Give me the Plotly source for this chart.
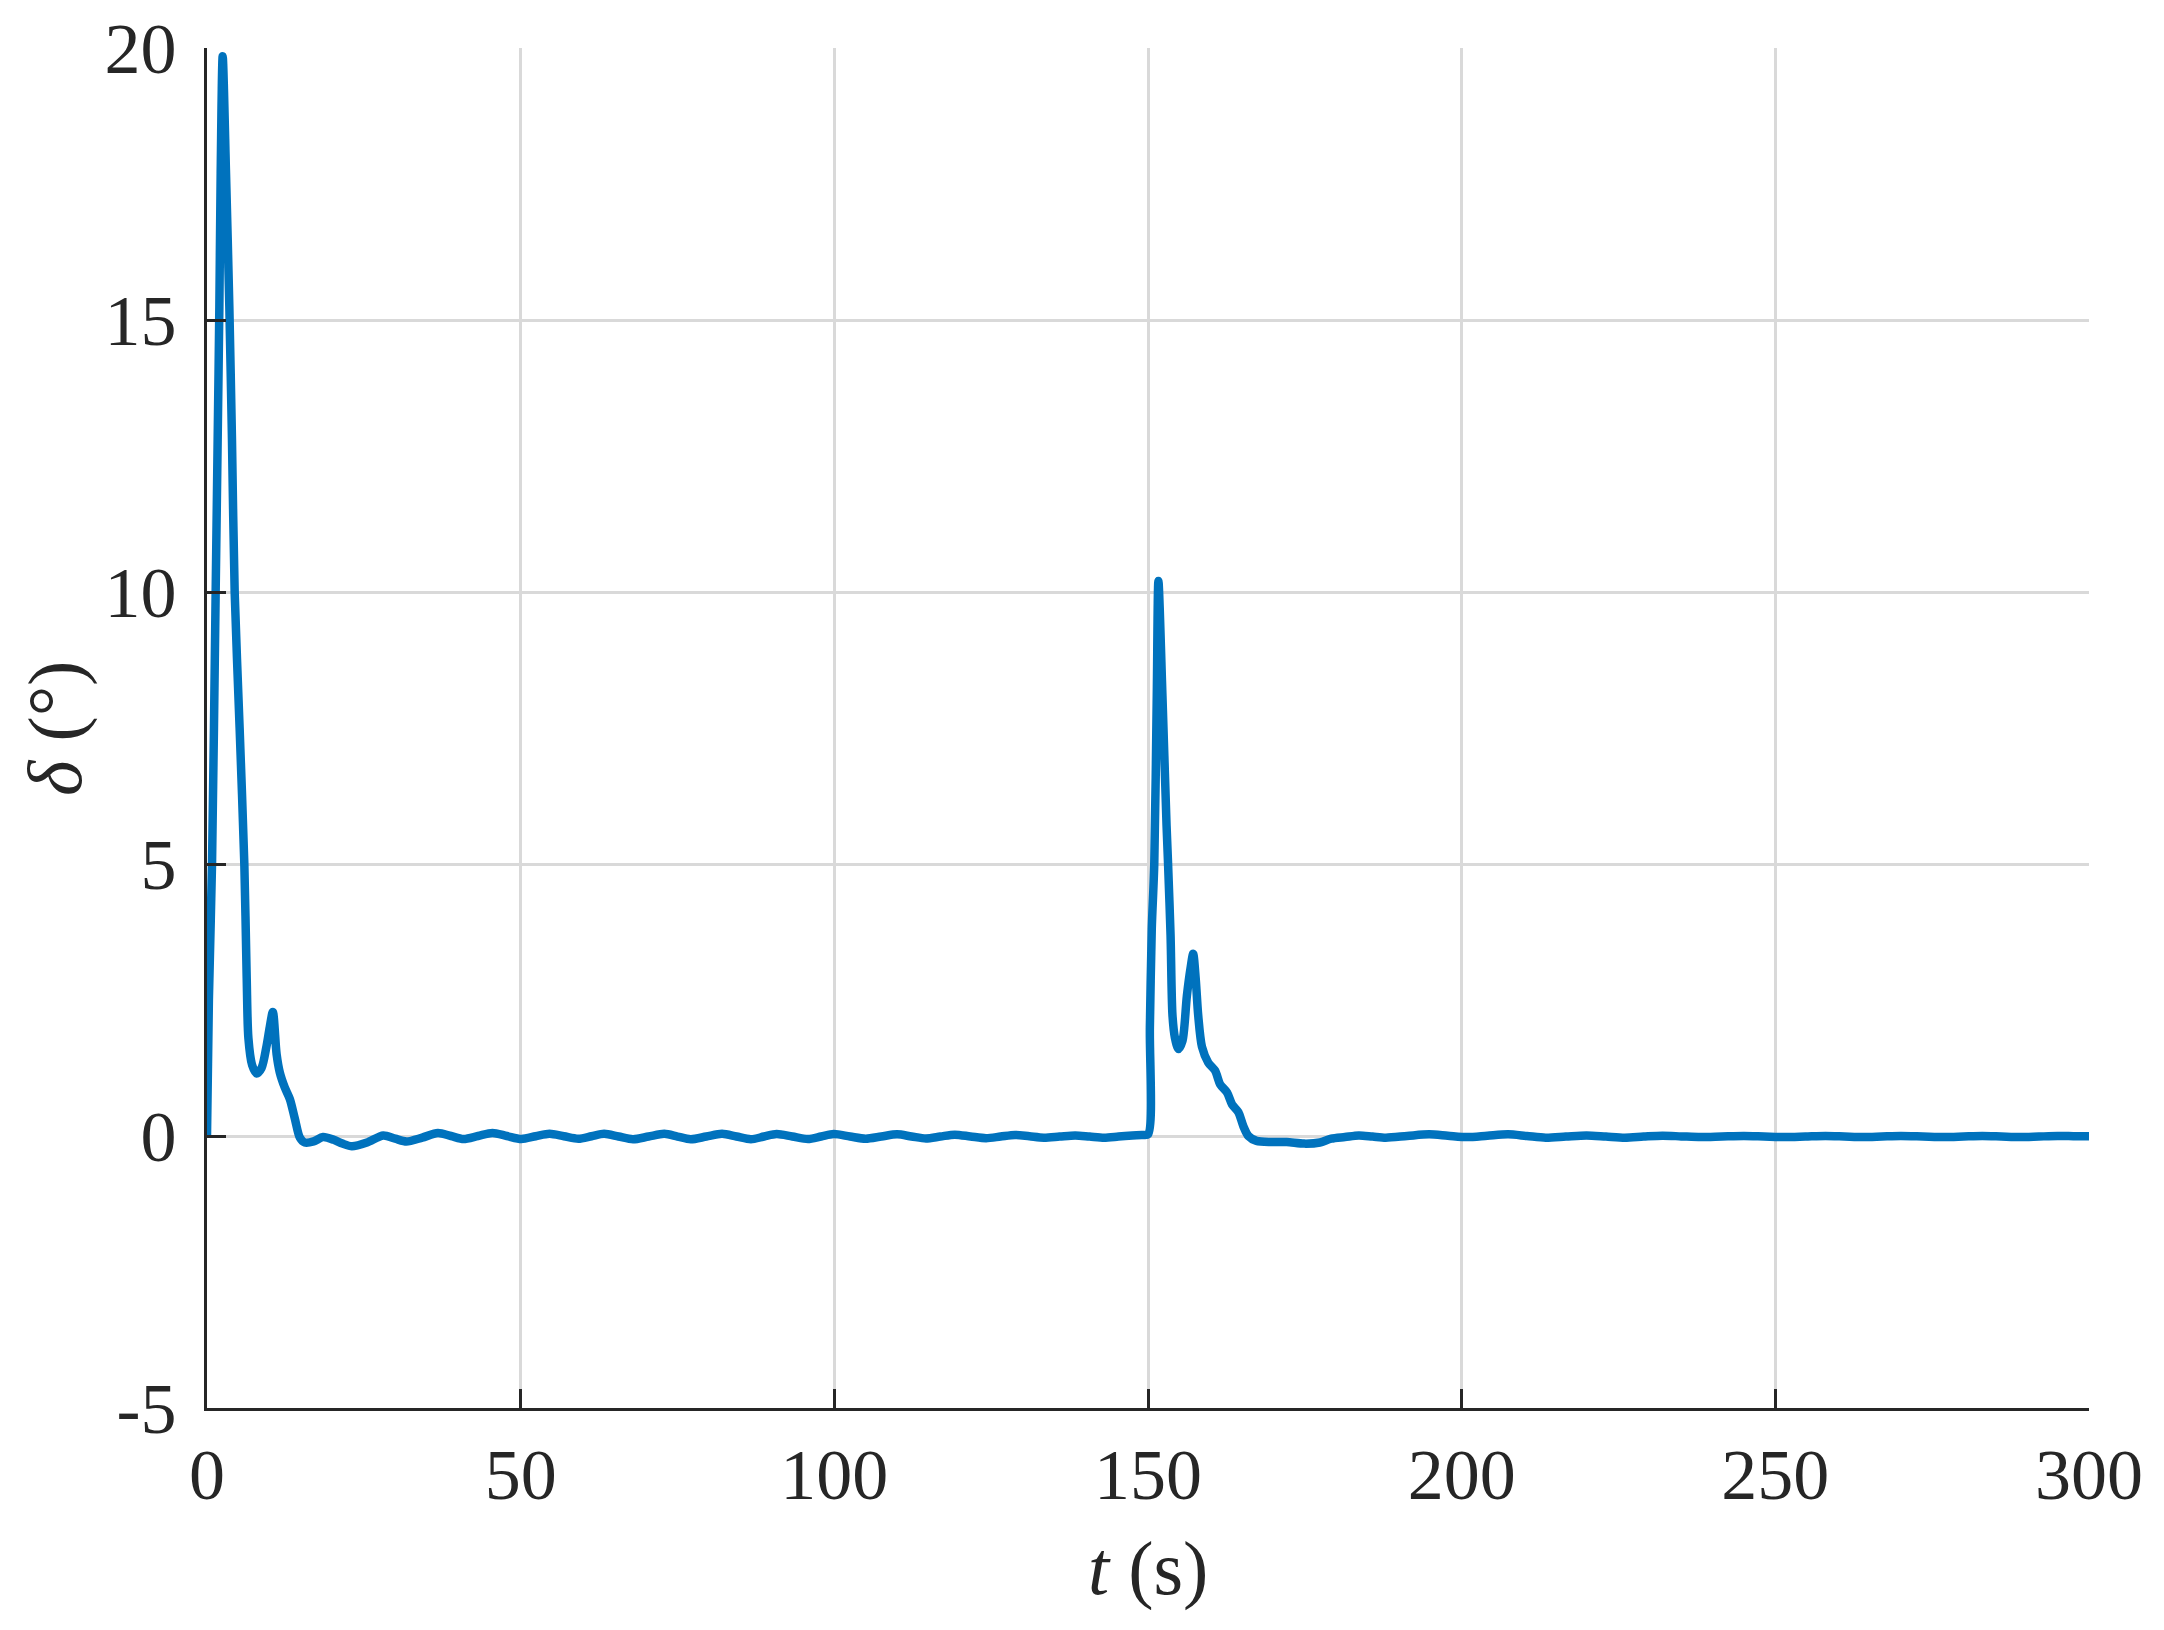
import plotly.graph_objects as go

# time (s) and rudder angle delta (deg)
t = [0.0, 0.3, 0.8, 1.38, 1.7, 1.97, 2.18, 2.5, 3.03, 3.56, 3.98, 4.41, 5.2, 5.95, 6.33, 6.6,
     7.2, 7.9, 8.7, 9.5, 10.0, 10.5, 11.1, 11.6, 12.4, 13.2, 14.0, 14.8, 15.6, 17.0, 18.5,
     20.2, 21.6, 23.1, 25.5, 28.1, 30.0, 31.8, 34.3, 36.8, 38.9, 40.9, 43.2, 45.5, 47.8, 50.1,
     52.4, 54.6, 56.9, 59.2, 61.3, 63.3, 65.6, 67.9, 70.4, 72.9, 75.0, 77.1, 79.6, 82.1, 84.4,
     86.7, 88.8, 90.8, 93.3, 95.8, 97.9, 99.9, 102.5, 105.0, 107.5, 110.0, 112.3, 114.6, 116.9,
     119.2, 121.7, 124.2, 126.5, 128.8, 131.1, 133.4, 135.9, 138.4, 140.7, 143.0, 145.3, 147.5,
     149.0, 150.0, 150.3, 150.6, 151.0, 151.4, 151.66, 152.3, 152.96, 153.2, 153.6, 153.9,
     154.3, 154.85, 155.5, 156.2, 156.8, 157.2, 157.6, 158.0, 158.6, 159.6, 160.7, 161.5, 162.6,
     163.4, 164.4, 165.2, 166.0, 167.3, 169.7, 172.1, 174.9, 177.4, 179.2, 181.4, 183.6, 185.8,
     187.9, 191.3, 194.8, 197.8, 200.9, 204.1, 207.4, 210.4, 213.4, 216.6, 219.9, 223.0, 226.0,
     229.0, 232.0, 235.0, 238.1, 241.5, 245.0, 248.2, 251.5, 254.8, 258.0, 261.0, 264.0, 267.0,
     270.0, 273.5, 277.0, 280.0, 283.0, 286.0, 289.0, 292.0, 295.0, 297.5, 300.0]
delta = [0.0, 2.5, 5.0, 10.0, 12.8, 15.25, 17.7, 19.85, 17.7, 15.25, 12.8, 10.0, 7.5, 5.0, 2.9, 1.8,
         1.3, 1.15, 1.25, 1.66, 2.0, 2.28, 1.5, 1.17, 0.89, 0.68, 0.32, -0.03, -0.12, -0.1, -0.02,
         -0.07, -0.14, -0.19, -0.12, 0.01, -0.05, -0.1, -0.03, 0.055, 0.0, -0.055, 0.0, 0.055, 0.0, -0.055,
         -0.005, 0.04, -0.005, -0.05, -0.005, 0.04, -0.01, -0.06, -0.01, 0.04, -0.01, -0.06, -0.01, 0.04, -0.01,
         -0.06, -0.01, 0.035, -0.01, -0.055, -0.01, 0.035, -0.01, -0.05, -0.01, 0.03, -0.008, -0.045, -0.01,
         0.025, -0.008, -0.04, -0.01, 0.02, -0.005, -0.03, -0.01, 0.01, -0.01, -0.03, -0.01, 0.01,
         0.02, 0.03, 2.0, 3.8, 5.0, 8.1, 10.2, 8.1, 5.7, 5.0, 3.68, 2.22,
         1.8, 1.6, 1.75, 2.58, 3.1, 3.35, 2.9, 2.22, 1.64, 1.35, 1.2, 0.95, 0.8,
         0.58, 0.44, 0.18, 0.0, -0.09, -0.11, -0.11, -0.14, -0.12, -0.05, -0.02, 0.01, -0.01,
         -0.03, 0.0, 0.03, 0.005, -0.02, 0.005, 0.03, 0.0, -0.03, -0.01, 0.01, -0.01, -0.03,
         -0.01, 0.006, -0.007, -0.02, -0.01, 0.0, -0.01, -0.02, -0.01, 0.0, -0.01, -0.02, -0.01,
         0.0, -0.01, -0.02, -0.01, 0.0, -0.01, -0.02, -0.01, 0.0, -0.003, -0.005]

x_ticks = [0, 50, 100, 150, 200, 250, 300]
y_ticks = [-5, 0, 5, 10, 15, 20]

AX = "#262626"
GRID = "#d9d9d9"
FONT = "Liberation Serif"

fig = go.Figure()
fig.add_trace(go.Scatter(x=t, y=delta, mode="lines",
                         line=dict(color="#0072BD", width=8.5, shape="spline", smoothing=0.8),
                         showlegend=False, hoverinfo="skip"))

axis_common = dict(
    showline=True, linecolor=AX, linewidth=3, mirror=False,
    ticks="inside", ticklen=19, tickwidth=3, tickcolor=AX,
    showgrid=True, gridcolor=GRID, gridwidth=2.5, zeroline=False,
    tickfont=dict(family=FONT, size=72, color=AX),
    automargin=False, ticklabeloverflow="allow",
)

fig.update_xaxes(range=[0, 300], tickvals=x_ticks, ticktext=[str(v) for v in x_ticks],
                 ticklabelstandoff=2, **axis_common)
fig.update_yaxes(range=[-5, 20], tickvals=y_ticks, ticktext=[str(v) for v in y_ticks],
                 ticklabelstandoff=13, **axis_common)

fig.add_annotation(text="<i>t</i> (s)", xref="paper", yref="paper", x=0.5, y=-0.1177,
                   xanchor="center", yanchor="middle", showarrow=False,
                   font=dict(family=FONT, size=76, color=AX))
fig.add_annotation(text="<i>δ</i> (°)", xref="paper", yref="paper", x=-0.0808, y=0.5,
                   xanchor="center", yanchor="middle", showarrow=False, textangle=-90,
                   font=dict(family=FONT, size=76, color=AX))

fig.update_layout(
    width=2164, height=1630,
    margin=dict(l=199, r=83, t=40, b=230),
    plot_bgcolor="white", paper_bgcolor="white",
)

fig.write_html("out.html")
